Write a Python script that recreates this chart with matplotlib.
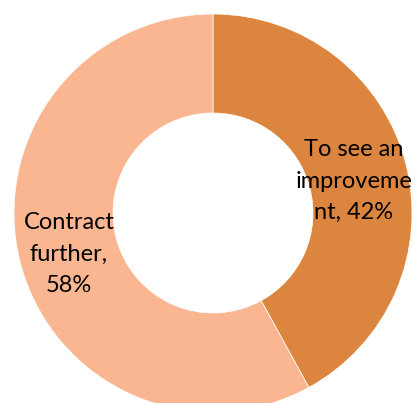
import matplotlib.pyplot as plt

labels = ['To see an\nimproveme\nnt, 42%', 'Contract\nfurther,\n58%']
values = [42, 58]
colors = ['#DC853F', '#F9B691']

fig = plt.figure(figsize=(4.18, 4.03), dpi=100)
ax = fig.add_axes([0, 0, 1, 1])

# pie in pixel units so the layout matches the reference
wedges, _ = ax.pie(values, colors=colors, radius=199, startangle=90,
                   counterclock=False,
                   wedgeprops=dict(width=99, edgecolor='white', linewidth=0.5))

ax.text(141, 32, labels[0], ha='center', va='center', fontsize=17,
        family='Lato', linespacing=1.62)
ax.text(-144, -41, labels[1], ha='center', va='center', fontsize=17,
        family='Lato', linespacing=1.62)

ax.set_xlim(-213, 205)
ax.set_ylim(-190, 213)
ax.set_aspect('auto')
ax.axis('off')

plt.savefig('out.png', dpi=100)
